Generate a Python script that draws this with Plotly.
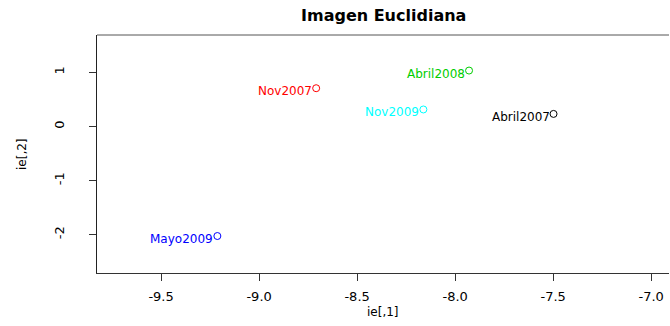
import plotly.graph_objects as go

labels = ["Abril2007", "Nov2007", "Abril2008", "Mayo2009", "Nov2009"]
x_vals = [-7.498, -8.709, -7.929, -9.213, -8.162]
y_vals = [0.232, 0.707, 1.033, -2.024, 0.314]
colors = ["#000000", "#FF0000", "#00CD00", "#0000FF", "#00FFFF"]

x_ticks = [-9.5, -9.0, -8.5, -8.0, -7.5, -7.0]
x_tick_text = ["-9.5", "-9.0", "-8.5", "-8.0", "-7.5", "-7.0"]
y_ticks = [-2, -1, 0, 1]
y_tick_text = ["-2", "-1", "0", "1"]

FONT = "DejaVu Sans"

fig = go.Figure()
fig.add_trace(go.Scatter(
    x=x_vals, y=y_vals, mode="markers",
    marker=dict(symbol="circle-open", size=7, color=colors, line=dict(width=1, color=colors)),
    hoverinfo="skip", showlegend=False,
))

for lab, xv, yv, c in zip(labels, x_vals, y_vals, colors):
    fig.add_annotation(x=xv, y=yv, xref="x", yref="y", text=lab, showarrow=False,
                       xanchor="right", yanchor="middle", xshift=-2, yshift=-3,
                       font=dict(family=FONT, size=12, color=c))

fig.add_annotation(text="<b>Imagen Euclidiana</b>", xref="paper", yref="paper",
                   x=0.5, y=(273 - 15) / 238, showarrow=False, xanchor="center", yanchor="middle",
                   font=dict(family=FONT, size=16, color="#000000"))
fig.add_annotation(text="ie[,1]", xref="paper", yref="paper",
                   x=0.5, y=(273 - 312) / 238, showarrow=False, xanchor="center", yanchor="middle",
                   font=dict(family=FONT, size=12, color="#000000"))
fig.add_annotation(text="ie[,2]", xref="paper", yref="paper",
                   x=(22 - 97) / 572, y=0.5, showarrow=False, xanchor="center", yanchor="middle",
                   textangle=-90, font=dict(family=FONT, size=12, color="#000000"))

fig.add_shape(type="line", xref="paper", yref="paper", x0=0, x1=1, y0=1, y1=1,
              line=dict(color="#555555", width=1))

fig.update_layout(
    template="none",
    width=670, height=326,
    margin=dict(l=97, r=1, t=35, b=53, autoexpand=False),
    plot_bgcolor="white", paper_bgcolor="white",
    xaxis=dict(range=[-9.827, -6.909], tickvals=x_ticks, ticktext=x_tick_text, automargin=False,
               showgrid=False, zeroline=False, showline=True, linecolor="#333333", linewidth=1,
               ticks="outside", ticklen=7, tickcolor="#333333",
               tickfont=dict(family=FONT, size=13, color="#000000"), ticklabelstandoff=4),
    yaxis=dict(range=[-2.707, 1.69], tickvals=y_ticks, ticktext=y_tick_text, automargin=False,
               showgrid=False, zeroline=False, showline=True, linecolor="#222222", linewidth=1,
               ticks="outside", ticklen=7, tickcolor="#333333", tickangle=-90,
               tickfont=dict(family=FONT, size=13, color="#000000"), ticklabelstandoff=20),
)

fig.write_html("out.html", config={"displayModeBar": False},
               post_script="document.body.style.margin='0';document.body.style.overflow='hidden';")
